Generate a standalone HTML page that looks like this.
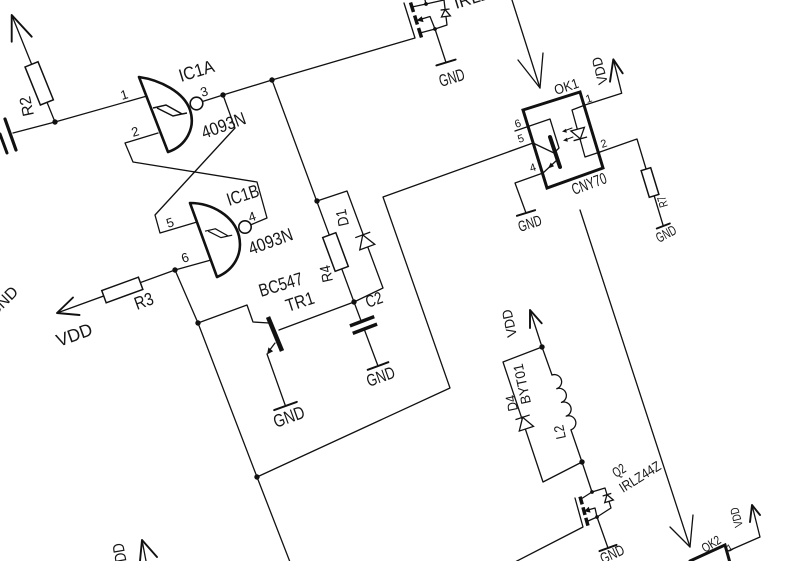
<!DOCTYPE html>
<html><head><meta charset="utf-8"><title>schematic</title>
<style>
html,body{margin:0;padding:0;background:#fff;width:799px;height:561px;overflow:hidden}
svg{display:block}
text{font-family:"Liberation Sans",Arial,sans-serif;fill:#161616;}
</style></head><body>
<svg width="799" height="561" viewBox="0 0 799 561" xmlns="http://www.w3.org/2000/svg">
<rect width="799" height="561" fill="#fff"/>
<g fill="none" stroke="#111" stroke-width="1.3" stroke-linejoin="round" stroke-linecap="round">
<polyline points="11.7,15 55,122"/>
<polyline points="55,122 13,133"/>
<polyline points="55,122 147,96"/>
<polyline points="158,133 125,143 133,162 257,182 267,218 251.5,224.5"/>
<polyline points="202.5,101.5 223,95 272,80 415,38 404,3"/>
<polyline points="223,95 235,128 155,215 160,233 197,222"/>
<polyline points="272,80 354,302"/>
<polyline points="317,201 347,191 383,288 354,302"/>
<polyline points="354,302 378,366"/>
<polyline points="354,302 279,330"/>
<polyline points="198,323 247,305 253,322 269,323"/>
<polyline points="275,343 269,351"/>
<polyline points="267,354 285.5,406"/>
<polyline points="175,270 198,323 257,477 290,562"/>
<polyline points="211,260 175,270 57,313"/>
<polyline points="257,477 450,388 383,197 533,143 554,153"/>

<polyline stroke-width="1.9" points="11.7,41.7 11.7,15 31.7,36.7"/>
<polyline stroke-width="1.9" points="73,297.5 57,313 79.5,315"/>
<polyline stroke-width="1.9" points="610,81.7 613.3,59.3 622.7,73.3"/>
<polyline points="613.3,59.3 621.7,93.3 585,105"/>
<polyline stroke-width="1.9" points="530,328 530,310 541.7,323.3"/>
<polyline points="530,310 542,347"/>
<polyline stroke-width="1.9" points="750,522 752,505 760,515"/>
<polyline points="752,505 760,537 728,551"/>
<polyline stroke-width="1.9" points="140,561 142,540 157,557"/>
<polyline points="142,540 146,561"/>

<line x1="5" y1="119" x2="16" y2="150" stroke-width="3.2"/>
<line x1="0" y1="134" x2="7" y2="153" stroke-width="3"/>

<polyline points="435,29 446,62.5"/>
<line x1="436.4" y1="65.4" x2="455.6" y2="59.6" stroke-width="2"/>
<line x1="274.2" y1="410.1" x2="296.8" y2="401.9" stroke-width="2"/>
<line x1="367.7" y1="369.8" x2="388.3" y2="362.2" stroke-width="2"/>
<polyline points="557,160 543,173 515,183 526,213"/>
<line x1="516.9" y1="215.8" x2="535.1" y2="210.2" stroke-width="2"/>
<polyline points="600,152 637,139 663.3,226"/>
<line x1="656.8" y1="228.5" x2="669.8" y2="223.5" stroke-width="2"/>
<polyline points="597,517 608,548"/>
<line x1="599.5" y1="551.1" x2="616.5" y2="544.9" stroke-width="2"/>

<polyline points="512,0 540,88"/>
<polyline points="518,60 540,88 543,53"/>
<polyline points="580,210 690,547"/>
<polyline points="670,527 690,547 693,515"/>

<polygon points="523,110 580,92 603,168 547,188" stroke-width="3" stroke-linejoin="miter"/>
<polyline points="515,131 550,119 559,148 556,151"/>
<polyline points="585,105 572,110 585,157 600,152"/>
<line x1="550" y1="137" x2="560" y2="167" stroke-width="4"/>
<line x1="572" y1="128" x2="564" y2="131" stroke-width="1"/>
<line x1="573" y1="137" x2="565" y2="140" stroke-width="1"/>

<polyline points="690,561 725,545 729.5,561" stroke-width="3" stroke-linejoin="miter"/>

<polyline points="542,347 503,362 543,482 582,462"/>
<polyline points="542,347 552,375"/>
<path transform="translate(552,375) rotate(-19.1)" d="M0,0 a7.25,7.25 0 0 1 0,14.5 a7.25,7.25 0 0 1 0,14.5 a7.25,7.25 0 0 1 0,14.5 a7.25,7.25 0 0 1 0,14.5"/>
<polyline points="571,430 582,462 592,492"/>
<polyline points="515,562 583,527 575,498"/>
<g stroke-width="3.5" stroke-linecap="butt">
<line x1="580" y1="496.6" x2="582.2" y2="504.4"/>
<line x1="583" y1="507.3" x2="585" y2="514.9"/>
<line x1="585.8" y1="517.8" x2="588" y2="525.6"/>
</g>
<polyline points="581,499 592,492 605,488 611,508 597,517 587,521.5"/>
<polyline points="597,517 595,508 588,510"/>

<g stroke-width="3.5" stroke-linecap="butt">
<line x1="410.5" y1="2.5" x2="413.5" y2="12"/>
<line x1="414.6" y1="15.5" x2="417.4" y2="24.5"/>
<line x1="418.5" y1="28" x2="421.5" y2="37.5"/>
</g>
<polyline points="412,7 426,4 444,0"/>
<polyline points="426,4 425,0"/>
<polyline points="444,0 447,25 435,29 420,33"/>
<polyline points="435,29 430,16.5 420,19.5"/>

<line x1="268" y1="317" x2="282" y2="351" stroke-width="4.5" stroke-linecap="butt"/>
</g>

<g fill="#111" stroke="none">
<polygon points="267,354.5 273.1,351.2 268.4,347.4"/>
<polygon points="416.5,20.5 423.6,22.1 421.8,16.3"/>
<polygon points="584,511.2 590.6,512.6 588.8,506.8"/>
<polygon points="548,168.5 554.1,166.2 550.7,162.6"/>
<polygon points="562,131.5 566,128.7 566.8,132.8"/>
<polygon points="563,140.5 567,137.7 567.8,141.8"/>
</g>

<g fill="#fff" stroke="#111" stroke-width="1.5">
<rect transform="translate(39.2,83.4) rotate(-22)" x="-7" y="-20.5" width="14" height="41"/>
<rect transform="translate(122.3,290) rotate(-20)" x="-19.5" y="-6.5" width="39" height="13"/>
<rect transform="translate(335.5,252) rotate(-20.3)" x="-7" y="-18" width="14" height="36"/>
<rect transform="translate(650,182.5) rotate(-17)" x="-5" y="-14" width="10" height="28"/>
</g>

<g fill="#fff" stroke="#111" stroke-width="1.3">
<g transform="translate(365,241) rotate(-20.4)"><polygon points="-8,6.5 8,6.5 0,-6.5"/><line x1="-8" y1="-6.5" x2="8" y2="-6.5"/></g>
<g transform="translate(524.5,423) rotate(-18.4)"><polygon points="-7.5,6 7.5,6 0,-6"/><line x1="-7.5" y1="-6" x2="7.5" y2="-6"/></g>
<g transform="translate(579,134) rotate(-15.5)"><polygon points="-7,-5 7,-5 0,5"/><line x1="-7" y1="5" x2="7" y2="5"/></g>
<g transform="translate(445.5,13) rotate(-7)"><polygon points="-4.5,3.5 4.5,3.5 0,-3.5"/><line x1="-4.5" y1="-3.5" x2="4.5" y2="-3.5"/></g>
<g transform="translate(608,498) rotate(-17)"><polygon points="-4.5,3.5 4.5,3.5 0,-3.5"/><line x1="-4.5" y1="-3.5" x2="4.5" y2="-3.5"/></g>
</g>

<g transform="translate(363.5,325) rotate(-20.7)">
<rect x="-13" y="-3.5" width="26" height="7" fill="#fff"/>
<line x1="-13" y1="-4" x2="13" y2="-4" stroke="#111" stroke-width="3.5"/>
<line x1="-13" y1="4" x2="13" y2="4" stroke="#111" stroke-width="3.5"/>
</g>

<g fill="#fff" stroke="#111" stroke-width="2.6" stroke-linejoin="round">
<path d="M139,77 C160,80 184,92 190,110 C196,128 186,146 168,152 Z"/>
<path d="M190,203 C212,203 234,216 239,236 C243,254 234,270 217,277 Z"/>
<circle cx="196.5" cy="103.5" r="6.3" stroke-width="1.6"/>
<circle cx="245" cy="227" r="6.2" stroke-width="1.6"/>
</g>
<g fill="none" stroke="#111" stroke-width="1.5">
<path d="M153,108 L166,105 L182,114 L173,116 L157,108 M182,114 L187,113"/>
<path transform="translate(205,228) scale(0.8) translate(-153,-104)" d="M153,108 L166,105 L182,114 L173,116 L157,108 M182,114 L187,113"/>
</g>

<g fill="#111">
<circle cx="55" cy="122" r="2.7"/>
<circle cx="223" cy="95" r="2.7"/>
<circle cx="272" cy="80" r="2.7"/>
<circle cx="317" cy="201" r="2.7"/>
<circle cx="354" cy="302" r="2.7"/>
<circle cx="175" cy="270" r="2.7"/>
<circle cx="198" cy="323" r="2.7"/>
<circle cx="257" cy="477" r="2.7"/>
<circle cx="542" cy="347" r="2.7"/>
<circle cx="582" cy="462" r="2.7"/>
<circle cx="426" cy="4" r="1.9"/>
<circle cx="435" cy="29" r="1.9"/>
<circle cx="592" cy="492" r="1.9"/>
<circle cx="597" cy="517" r="1.9"/>
</g>

<g>
<text transform="translate(181,82) rotate(-17)" font-size="18" textLength="36" lengthAdjust="spacingAndGlyphs">IC1A</text>
<text transform="translate(204,139) rotate(-20)" font-size="18" textLength="46" lengthAdjust="spacingAndGlyphs">4093N</text>
<text transform="translate(229,206) rotate(-18)" font-size="18" textLength="33" lengthAdjust="spacingAndGlyphs">IC1B</text>
<text transform="translate(251,255) rotate(-20)" font-size="18" textLength="46" lengthAdjust="spacingAndGlyphs">4093N</text>
<text transform="translate(261,297) rotate(-17)" font-size="18" textLength="45" lengthAdjust="spacingAndGlyphs">BC547</text>
<text transform="translate(288,312) rotate(-18)" font-size="18" textLength="29" lengthAdjust="spacingAndGlyphs">TR1</text>
<text transform="translate(368,308) rotate(-20)" font-size="17" textLength="17" lengthAdjust="spacingAndGlyphs">C2</text>
<text transform="translate(137,310) rotate(-20)" font-size="18" textLength="19" lengthAdjust="spacingAndGlyphs">R3</text>
<text transform="translate(59,347) rotate(-20)" font-size="18" textLength="37" lengthAdjust="spacingAndGlyphs">VDD</text>
<text transform="translate(276,428) rotate(-20)" font-size="18" textLength="32" lengthAdjust="spacingAndGlyphs">GND</text>
<text transform="translate(369,387) rotate(-20)" font-size="17" textLength="29" lengthAdjust="spacingAndGlyphs">GND</text>
<text transform="translate(441,87) rotate(-17)" font-size="17" textLength="26" lengthAdjust="spacingAndGlyphs">GND</text>
<text transform="translate(456,9) rotate(-17)" font-size="17">IRLZ44Z</text>
<text transform="translate(556,95) rotate(-18)" font-size="14" textLength="25" lengthAdjust="spacingAndGlyphs">OK1</text>
<text transform="translate(574,195) rotate(-20)" font-size="16" textLength="36" lengthAdjust="spacingAndGlyphs">CNY70</text>
<text transform="translate(520,232) rotate(-18)" font-size="15" textLength="24" lengthAdjust="spacingAndGlyphs">GND</text>
<text transform="translate(659,243) rotate(-28)" font-size="14" textLength="21" lengthAdjust="spacingAndGlyphs">GND</text>
<text transform="translate(616,478) rotate(-32)" font-size="14" textLength="13" lengthAdjust="spacingAndGlyphs">Q2</text>
<text transform="translate(623,493) rotate(-32)" font-size="14" textLength="46" lengthAdjust="spacingAndGlyphs">IRLZ44Z</text>
<text transform="translate(705,553) rotate(-32)" font-size="13" textLength="20" lengthAdjust="spacingAndGlyphs">OK2</text>
<text transform="translate(603,564) rotate(-25)" font-size="15" textLength="25" lengthAdjust="spacingAndGlyphs">GND</text>
<text transform="translate(-6,318) rotate(-45)" font-size="16">GND</text>

<text transform="translate(34,115) rotate(-102)" font-size="16" textLength="20" lengthAdjust="spacingAndGlyphs">R2</text>
<text transform="translate(333,281) rotate(-102)" font-size="15" textLength="17" lengthAdjust="spacingAndGlyphs">R4</text>
<text transform="translate(349,225) rotate(-102)" font-size="15" textLength="17" lengthAdjust="spacingAndGlyphs">D1</text>
<text transform="translate(668,206) rotate(-106)" font-size="12" textLength="11" lengthAdjust="spacingAndGlyphs">R7</text>
<text transform="translate(608,83) rotate(-105)" font-size="14" textLength="28" lengthAdjust="spacingAndGlyphs">VDD</text>
<text transform="translate(517,336) rotate(-102)" font-size="14" textLength="28" lengthAdjust="spacingAndGlyphs">VDD</text>
<text transform="translate(518,410) rotate(-102)" font-size="14" textLength="16" lengthAdjust="spacingAndGlyphs">D4</text>
<text transform="translate(531,403) rotate(-102)" font-size="14" textLength="41" lengthAdjust="spacingAndGlyphs">BYT01</text>
<text transform="translate(566,438) rotate(-102)" font-size="14" textLength="14" lengthAdjust="spacingAndGlyphs">L2</text>
<text transform="translate(743,526) rotate(-105)" font-size="12" textLength="20" lengthAdjust="spacingAndGlyphs">VDD</text>
<text transform="translate(128,570) rotate(-100)" font-size="16" textLength="28" lengthAdjust="spacingAndGlyphs">VDD</text>

<text transform="translate(122,100) rotate(-17)" font-size="13">1</text>
<text transform="translate(133,137) rotate(-17)" font-size="13">2</text>
<text transform="translate(202,97) rotate(-17)" font-size="13">3</text>
<text transform="translate(250,222) rotate(-18)" font-size="13">4</text>
<text transform="translate(168,228) rotate(-18)" font-size="13">5</text>
<text transform="translate(183,263) rotate(-18)" font-size="13">6</text>
<text transform="translate(516,128) rotate(-18)" font-size="11">6</text>
<text transform="translate(519,143) rotate(-18)" font-size="11">5</text>
<text transform="translate(531,172) rotate(-18)" font-size="11">4</text>
<text transform="translate(587,103) rotate(-18)" font-size="11">1</text>
<text transform="translate(602,148) rotate(-18)" font-size="11">2</text>
<text transform="translate(729,552) rotate(-30)" font-size="10">1</text>
</g>
</svg>
</body></html>
